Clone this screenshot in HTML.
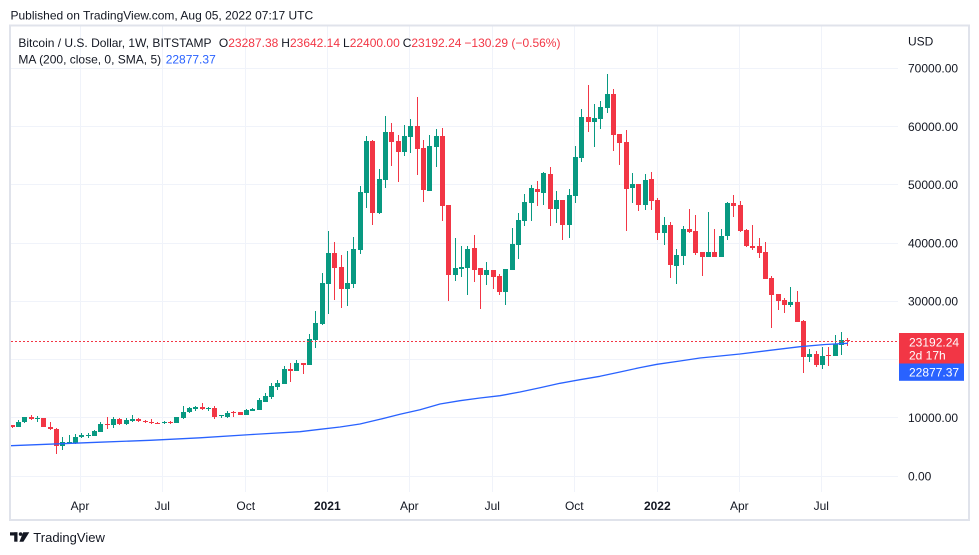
<!DOCTYPE html>
<html><head><meta charset="utf-8">
<style>
html,body{margin:0;padding:0;background:#fff;}
svg{display:block;}
text{font-family:"Liberation Sans",Arial,sans-serif;font-size:12px;fill:#131722;}
</style></head><body>
<svg id="c" width="979" height="555" viewBox="0 0 979 555" xmlns="http://www.w3.org/2000/svg">
<defs><clipPath id="pane"><rect x="11" y="26" width="887" height="466"/></clipPath></defs>
<rect x="0" y="0" width="979" height="555" fill="#fff"/>
<text x="10.5" y="19.3">Published on TradingView.com, Aug 05, 2022 07:17 UTC</text>

<!-- grid -->
<g stroke="#f0f3fa" stroke-width="1" fill="none">
<line x1="11" x2="898" y1="68.5" y2="68.5"/>
<line x1="11" x2="898" y1="126.5" y2="126.5"/>
<line x1="11" x2="898" y1="184.5" y2="184.5"/>
<line x1="11" x2="898" y1="243.5" y2="243.5"/>
<line x1="11" x2="898" y1="301.5" y2="301.5"/>
<line x1="11" x2="898" y1="359.5" y2="359.5"/>
<line x1="11" x2="898" y1="417.5" y2="417.5"/>
<line x1="11" x2="898" y1="476.5" y2="476.5"/>
<line x1="80.5" x2="80.5" y1="26" y2="492"/>
<line x1="162.5" x2="162.5" y1="26" y2="492"/>
<line x1="245.5" x2="245.5" y1="26" y2="492"/>
<line x1="327.5" x2="327.5" y1="26" y2="492"/>
<line x1="409.5" x2="409.5" y1="26" y2="492"/>
<line x1="492.5" x2="492.5" y1="26" y2="492"/>
<line x1="574.5" x2="574.5" y1="26" y2="492"/>
<line x1="657.5" x2="657.5" y1="26" y2="492"/>
<line x1="739.5" x2="739.5" y1="26" y2="492"/>
<line x1="821.5" x2="821.5" y1="26" y2="492"/>
</g>

<g clip-path="url(#pane)">
<g id="candles"></g>
<polyline fill="none" stroke="#2962ff" stroke-width="1.3" stroke-linejoin="round" points="11,445.7 100,442.2 150,440.3 200,437.8 250,434.6 300,431.7 320,429.3 340,427 360,424 380,419.3 400,414.3 420,409.7 440,404 460,400.7 480,398 500,395.7 520,392 540,387.7 560,383.3 580,379.7 600,376.3 620,372 640,367.6 657,364.3 680,361 700,358 720,356 740,354 770,350.3 800,346.7 825,344.5 848,343.3"/>
<line x1="11" x2="898" y1="341.5" y2="341.5" stroke="#f23645" stroke-width="1" stroke-dasharray="2 2"/>
</g>

<!-- header legend -->
<text x="18.4" y="47">Bitcoin / U.S. Dollar, 1W, BITSTAMP</text>
<text x="218.9" y="47">O<tspan style="fill:#f23645">23287.38</tspan></text>
<text x="281.3" y="47">H<tspan style="fill:#f23645">23642.14</tspan></text>
<text x="343" y="47">L<tspan style="fill:#f23645">22400.00</tspan></text>
<text x="402.7" y="47">C<tspan style="fill:#f23645">23192.24</tspan></text>
<text x="464.4" y="47" style="fill:#f23645">−130.29 (−0.56%)</text>
<text x="18.4" y="63.6">MA (200, close, 0, SMA, 5)</text>
<text x="165.7" y="63.6" style="fill:#2962ff">22877.37</text>

<!-- price axis -->
<text x="908" y="45.6">USD</text>
<text x="908" y="72.6">70000.00</text>
<text x="908" y="130.8">60000.00</text>
<text x="908" y="189">50000.00</text>
<text x="908" y="247.3">40000.00</text>
<text x="908" y="305.5">30000.00</text>
<text x="908" y="422">10000.00</text>
<text x="908" y="480.3">0.00</text>

<rect x="899" y="333" width="65" height="30.5" fill="#f23645"/>
<rect x="899" y="363.5" width="65" height="17.3" fill="#2962ff"/>
<text x="909" y="346.3" style="fill:#fff">23192.24</text>
<text x="909" y="359.7" style="fill:#fff">2d 17h</text>
<text x="909" y="376.7" style="fill:#fff">22877.37</text>

<!-- time axis -->
<g text-anchor="middle">
<text x="80" y="510">Apr</text>
<text x="162.3" y="510">Jul</text>
<text x="245.7" y="510">Oct</text>
<text x="327.3" y="510" font-weight="bold">2021</text>
<text x="409.3" y="510">Apr</text>
<text x="492.3" y="510">Jul</text>
<text x="574.3" y="510">Oct</text>
<text x="657.3" y="510" font-weight="bold">2022</text>
<text x="739.3" y="510">Apr</text>
<text x="821.3" y="510">Jul</text>
</g>

<!-- frame -->
<rect x="10" y="25.5" width="959" height="494.5" fill="none" stroke="#e0e3eb" stroke-width="2"/>

<!-- logo -->
<g fill="#131722">
<rect x="10" y="532.3" width="7.5" height="3.2"/>
<rect x="14.2" y="532.3" width="3.3" height="9.4"/>
<circle cx="20.6" cy="534.1" r="1.8"/>
<polygon points="23.2,532.3 29.3,532.3 23.4,541.7 19.4,541.7"/>
</g>
<text x="33.3" y="542" style="font-size:13px">TradingView</text>
</svg>
<script>
const D=[
[8700,8800,8300,8420],[8470,9610,8360,9270],[9220,10150,9100,10130],[10130,10470,9610,9790],[9800,10350,9220,9950],
[9960,9980,8450,8470],[8470,9270,7900,8070],[8070,8290,3830,5200],[5200,6640,4520,5890],[5720,7090,5700,5890],
[5720,7260,5550,6700],[6700,7430,6580,6990],[6870,7320,6580,7090],[6920,7950,6810,7780],[7610,9270,7550,8980],
[8980,10180,8120,8810],[8810,10080,8190,9790],[9790,9900,8810,9000],[9000,9960,8810,9620],[9500,10420,9270,9840],
[9840,10000,9200,9500],[9390,9670,9050,9300],[9320,9800,8950,9050],[9150,9300,8950,9100],[9150,9450,9000,9300],
[9300,9400,9000,9150],[9150,10150,9100,10080],[10000,12070,9800,11050],[11050,11900,10760,11730],[11550,12000,11200,11900],
[11900,12580,11300,11550],[11600,11900,11210,11700],[11670,12020,9840,10130],[10300,10520,9900,10470],[10130,11210,10000,10820],
[10930,11160,10180,10820],[10930,11000,10400,10520],[10470,11500,10400,11330],[11210,11730,11200,11550],[11330,13380,11300,13050],
[12760,14200,12650,13790],[13560,15950,13200,15450],[15280,16430,14760,16020],[15850,18800,15800,18370],[18370,19450,16140,18030],
[18030,19910,18000,19400],[19400,19400,17510,19110],[19060,24300,19000,23500],[23350,28400,21900,26260],[26090,34850,25920,33130],
[32960,42060,27860,38280],[38280,40170,30210,35760],[35880,37940,28890,32150],[32150,38630,29240,33130],[32960,41030,32270,38970],
[38850,49790,38170,48760],[48640,58370,46060,57510],[57510,57680,43140,45200],[45200,52700,45000,50990],[50870,61800,49490,59060],
[59060,60600,53270,57340],[57510,58540,50530,55680],[55680,60260,54990,58370],[58250,61290,55500,60090],[60090,65060,51670,56190],
[56310,57680,47090,49150],[48990,58540,48990,56650],[56530,59570,53100,58370],[58370,59740,43830,46400],[46580,46580,30090,34560],
[34560,40860,33530,35760],[35590,39480,34210,35930],[35760,39480,31120,38970],[39140,41370,33360,35420],[35760,35760,28720,34560],
[34560,36790,32790,35420],[35420,35420,32150,34210],[34390,34730,31120,31640],[31640,35590,29410,35590],[35420,42580,35420,39830],
[39710,45200,37310,44000],[43830,48460,42970,47090],[46920,49960,43830,49440],[49270,50640,46400,48800],[48640,52200,46520,51960],
[51850,53050,42970,45890],[45890,48930,43490,47380],[47380,47380,40570,43140],[43140,49270,40910,48240],[48120,56650,46920,54770],
[54650,63000,53960,61630],[61630,67120,59110,60830],[60830,63860,56530,61460],[61340,64380,59570,63350],[63230,69010,62370,65630],
[65630,66440,55850,58590],[58710,58710,53440,57220],[57340,59400,42110,49330],[49440,52020,46920,50130],[50130,50130,45550,46580],
[46580,51850,45720,50820],[50990,52240,45670,47210],
[47380,47670,40520,41770],[41770,44460,39710,43090],[43090,43610,34050,36280],[36110,39020,33010,37940],[37820,42920,36280,42400],
[42400,45840,41770,41890],[42060,44860,37990,38340],[38460,38460,34390,37650],[37650,45320,37540,38460],[38460,42400,37540,37650],
[37650,42400,37540,41200],[41260,47040,40570,46920],[46870,48290,44410,46400],[46580,47210,41890,42110],[42230,42400,39370,39540],
[39540,43090,38750,39090],[39490,40860,37480,38340],[38460,40170,33880,33880],[34050,34330,25460,31120],[31240,31240,28550,30090],
[30210,30610,28030,29410],[29410,32450,29070,29870],[29870,31760,26490,26490],[26610,26780,17630,20480],[20480,21850,19620,20990],
[20890,21510,18760,19110],[19110,22200,18420,20650],[20820,22200,18930,20650],[20650,24260,20650,22710],[22540,24770,20820,23400],
[23287,23642,22400,23192]
];
const k0=-102;
const Y=p=>476-p*0.005825;
let s='';
D.forEach((d,i)=>{
  const k=k0+i;
  const xc=Math.round(657.3+6.33*k)+0.5;
  const o=d[0],h=d[1],l=d[2],c=d[3];
  const col=c>=o?'#089981':'#f23645';
  const yh=Math.round(Y(h)), yl=Math.round(Y(l));
  let yt=Math.round(Y(Math.max(o,c))), yb=Math.round(Y(Math.min(o,c)));
  if(yb-yt<1) yb=yt+1;
  s+='<line x1="'+xc+'" x2="'+xc+'" y1="'+yh+'" y2="'+Math.max(yl,yh+1)+'" stroke="'+col+'" stroke-width="1"/>';
  s+='<rect x="'+(xc-2.5)+'" y="'+yt+'" width="5" height="'+(yb-yt)+'" fill="'+col+'"/>';
});
document.getElementById('candles').innerHTML=s;
</script>
</body></html>
